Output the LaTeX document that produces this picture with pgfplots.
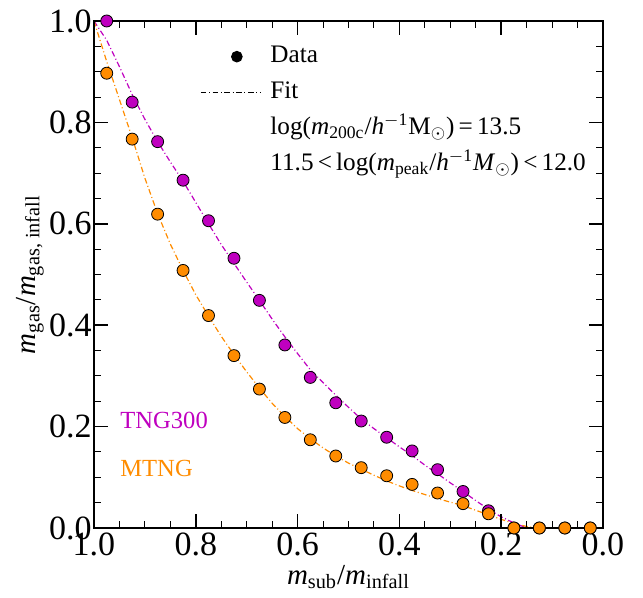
\documentclass[border=0pt]{standalone}
\usepackage{fontspec}
\setmainfont{Liberation Serif}
\usepackage{pgfplots}
\pgfplotsset{compat=1.18}
\definecolor{cM}{RGB}{191,0,191}
\definecolor{cO}{RGB}{255,140,0}
\tikzset{dashdotfit/.style={line width=0.6pt, dash pattern=on 2.8pt off 1.3pt on 0.5pt off 1.3pt}}
\pgfplotsset{
  datalegend/.style={legend image code/.code={\draw[mark repeat=2,mark phase=2,##1] plot coordinates {(0pt,0pt) (18pt,0pt) (36pt,0pt)};\path (0pt,0pt) (33pt,0pt);}},
  fitlegend/.style={legend image code/.code={\draw[##1] (0pt,0pt) -- (30pt,0pt);\path (33pt,0pt);}},
}
\begin{document}
\begin{tikzpicture}
\begin{axis}[
  scale only axis, width=254.5pt, height=253.5pt,
  xmin=0, xmax=1, ymin=0, ymax=1, x dir=reverse,
  xtick={0,0.2,0.4,0.6,0.8,1.0}, ytick={0,0.2,0.4,0.6,0.8,1.0},
  minor x tick num=3, minor y tick num=3,
  tick align=inside, major tick length=7pt, minor tick length=3.5pt,
  every major tick/.style={black, line width=0.8pt},
  every minor tick/.style={black, line width=0.5pt},
  axis line style={line width=1pt},
  axis on top,
  tick label style={font=\fontsize{17}{19}\selectfont},
  xticklabel style={inner sep=2pt},
  yticklabel style={inner sep=1pt},
  /pgf/number format/.cd, fixed, fixed zerofill, precision=1, assume math mode=true,
  /pgfplots/.cd,
  xlabel={\textit{m}\textsubscript{sub}/\textit{m}\textsubscript{infall}},
  ylabel={\textit{m}\textsubscript{gas}/\textit{m}\textsubscript{gas, infall}},
  label style={font=\fontsize{14.5}{17}\selectfont},
  xlabel style={at={(axis description cs:0.5,0)}, anchor=center, yshift=-24.5pt},
  ylabel style={at={(axis description cs:-0.126,0.5)}, anchor=center},
  legend style={draw=none, fill=none, at={(axis description cs:0.208,0.96)}, anchor=north west,
    font=\fontsize{12.6}{15}\selectfont, row sep=3pt, inner sep=0pt,
    nodes={inner sep=1.5pt, text height=9pt, text depth=3pt}},
  legend cell align=left,
]
\addlegendimage{only marks, mark=*, mark size=2.7pt, black, datalegend}
\addlegendentry{Data}
\addlegendimage{black, dashdotfit, fitlegend}
\addlegendentry{Fit}
\addlegendimage{empty legend}
\addlegendentry{log(\textit{m}\textsubscript{200c}/\textit{h}\textsuperscript{$-$1}M\textsubscript{$\odot$})\,=\,13.5}
\addlegendimage{empty legend}
\addlegendentry{11.5\,<\,log(\textit{m}\textsubscript{peak}/\textit{h}\textsuperscript{$-$1}\textit{M}\textsubscript{$\odot$})\,<\,12.0}

% fits
\addplot[cM, dashdotfit, forget plot] coordinates {
(1.0,1.0) (0.975,0.962) (0.95,0.91) (0.925,0.855) (0.9,0.806) (0.875,0.762)
(0.85,0.722) (0.825,0.684) (0.8,0.642) (0.775,0.600) (0.75,0.559) (0.725,0.522)
(0.7,0.485) (0.675,0.449) (0.65,0.412) (0.625,0.377) (0.6,0.344) (0.575,0.312)
(0.55,0.287) (0.525,0.262) (0.5,0.238) (0.475,0.215) (0.45,0.196) (0.425,0.178)
(0.4,0.160) (0.375,0.143) (0.35,0.124) (0.325,0.107) (0.3,0.089) (0.275,0.072)
(0.25,0.054) (0.225,0.037) (0.2,0.022) (0.175,0.010) (0.155,0.002) (0.147,0.0)};
\addplot[cO, dashdotfit, forget plot] coordinates {
(1.0,1.0) (0.975,0.92) (0.95,0.845) (0.925,0.77) (0.9,0.69) (0.875,0.62)
(0.85,0.56) (0.825,0.508) (0.8,0.46) (0.775,0.418) (0.75,0.378) (0.725,0.342)
(0.7,0.308) (0.675,0.276) (0.65,0.246) (0.625,0.220) (0.6,0.196) (0.575,0.176)
(0.55,0.158) (0.525,0.142) (0.5,0.128) (0.475,0.116) (0.45,0.104) (0.425,0.093)
(0.4,0.083) (0.375,0.074) (0.35,0.066) (0.325,0.058) (0.3,0.051) (0.275,0.044)
(0.25,0.035) (0.225,0.026) (0.2,0.017) (0.175,0.009) (0.15,0.003) (0.13,0.0)};
% data
\addplot[only marks, mark=*, mark size=3pt, mark options={fill=cM, draw=black, line width=0.4pt}, forget plot] coordinates {
(0.975,1.000) (0.925,0.840) (0.875,0.762) (0.825,0.686) (0.775,0.606)
(0.725,0.532) (0.675,0.449) (0.625,0.361) (0.575,0.297) (0.525,0.247)
(0.475,0.211) (0.425,0.179) (0.375,0.152) (0.325,0.115) (0.275,0.072)
(0.225,0.034) (0.175,0.000) (0.125,0.000) (0.075,0.000) (0.025,0.000)};
\addplot[only marks, mark=*, mark size=3pt, mark options={fill=cO, draw=black, line width=0.4pt}, forget plot] coordinates {
(0.975,0.897) (0.925,0.767) (0.875,0.619) (0.825,0.508) (0.775,0.419)
(0.725,0.340) (0.675,0.274) (0.625,0.218) (0.575,0.174) (0.525,0.142)
(0.475,0.119) (0.425,0.103) (0.375,0.086) (0.325,0.069) (0.275,0.048)
(0.225,0.028) (0.175,0.000) (0.125,0.000) (0.075,0.000) (0.025,0.000)};

\node[anchor=west, text=cM, font=\fontsize{12.3}{14}\selectfont, inner sep=0pt] at (axis description cs:0.051,0.213) {TNG300};
\node[anchor=west, text=cO, font=\fontsize{12.3}{14}\selectfont, inner sep=0pt] at (axis description cs:0.051,0.118) {MTNG};
\end{axis}
\pgfresetboundingbox
\useasboundingbox ([shift={(-47pt,-35pt)}]current axis.south west) rectangle ([shift={(20pt,10.5pt)}]current axis.north east);
\end{tikzpicture}
\end{document}
